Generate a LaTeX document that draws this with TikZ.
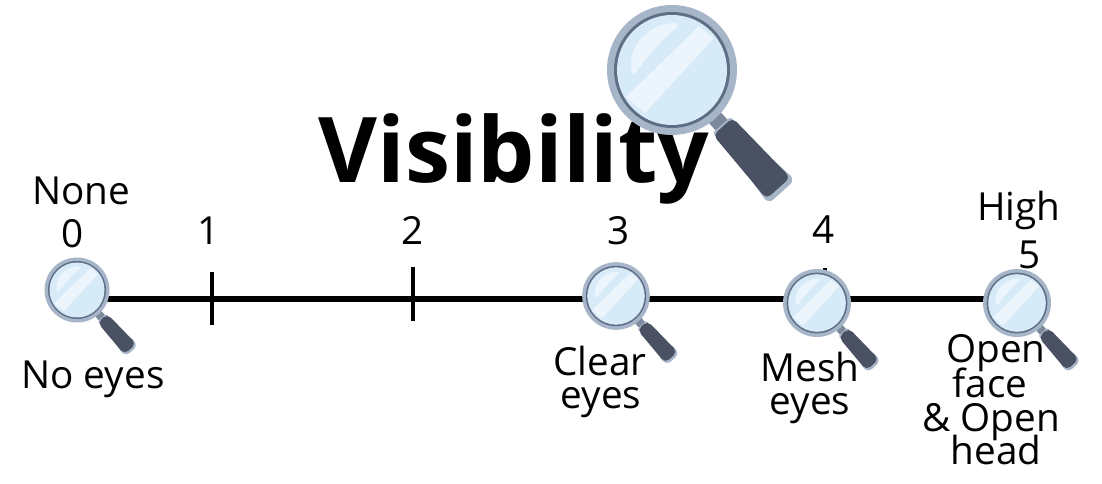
\documentclass[tikz,border=0pt]{standalone}
\usepackage{fontspec}
\setmainfont{Open Sans}
\definecolor{ringc}{HTML}{A7B5C9}
\definecolor{rimc}{HTML}{5E6E84}
\definecolor{lensc}{HTML}{D6EAF8}
\definecolor{glarec}{HTML}{ECF5FC}
\definecolor{neckc}{HTML}{7C889C}
\definecolor{gripc}{HTML}{4A5163}
\tikzset{
  x=0.75pt,y=-0.75pt,
  lbl/.style={inner sep=0pt,outer sep=0pt,anchor=base,align=center,font=\fontsize{29}{25}\selectfont},
  ttl/.style={inner sep=0pt,outer sep=0pt,anchor=base,font=\fontsize{68}{68}\selectfont\bfseries},
  axisline/.style={line width=5.2pt,black},
  tickline/.style={line width=3pt,black},
  pics/mag/.style={code={
    \begin{scope}[rotate=-48]
      \fill[ringc,rounded corners=5] (134,-15) -- (164,-18) -- (164,18) -- (134,15) -- cycle;
      \fill[neckc] (60,-8) rectangle (82,8);
      \fill[ringc,rounded corners=2] (74,-12) rectangle (84,12);
      \fill[gripc,rounded corners=4] (76,-13) -- (159,-16) -- (159,16) -- (76,13) -- cycle;
    \end{scope}
    \fill[ringc] (0,0) circle[radius=65];
    \fill[rimc] (0,0) circle[radius=58];
    \fill[lensc] (0,0) circle[radius=55];
    \begin{scope}
      \clip (0,0) circle[radius=55];
      \fill[glarec] (-46,27) -- (27,-44) -- (42,-32) -- (-27,43) -- cycle;
      \fill[glarec] (-40,3) .. controls (-46,-22) and (-26,-45) .. (1,-47) .. controls (7,-47) and (7,-43) .. (3,-41) .. controls (-14,-26) and (-24,-14) .. (-36,2) .. controls (-38,4) and (-39,4) .. (-40,3) -- cycle;
    \end{scope}
  }}
}
\begin{document}
\begin{tikzpicture}
\useasboundingbox (0,0) rectangle (1102,484);
\fill[white] (0,0) rectangle (1102,484);
\coordinate (m0) at (77,290);
\coordinate (m3) at (616,296);
\coordinate (m4) at (817,303);
\coordinate (m5) at (1017,303);
\coordinate (big) at (672,70);
\coordinate (t1a) at (212,272);
\coordinate (t1b) at (212,325);
\coordinate (t2a) at (413,267);
\coordinate (t2b) at (413,321);
\coordinate (t4a) at (825,268);
\coordinate (t4b) at (825,300);
\coordinate (axa) at (77,299);
\coordinate (axb) at (1017,299);
\node[ttl] (title) at (514,183) {Visibility};
\draw[axisline] (axa) -- (axb);
\draw[tickline] (t1a) -- (t1b);
\draw[tickline] (t2a) -- (t2b);
\draw[tickline] (t4a) -- (t4b);
\pic[scale=1] at (big) {mag};
\pic[scale=0.5] at (m0) {mag};
\pic[scale=0.52] at (m3) {mag};
\pic[scale=0.523] at (m4) {mag};
\pic[scale=0.523] at (m5) {mag};
\node[lbl] (none) at (81,205) {None};
\node[lbl] (n0) at (73,248) {0};
\node[lbl] (n1) at (209,245) {1};
\node[lbl] (n2) at (413,245) {2};
\node[lbl] (n3) at (619,245) {3};
\node[lbl] (n4) at (824,244) {4};
\node[lbl] (high) at (1019,221) {High};
\node[lbl] (n5) at (1030,269) {5};
\node[lbl] (noeyes) at (93,388) {No eyes};
\node[lbl] (clear) at (600,375) {Clear};
\node[lbl] (cleareyes) at (601,408) {eyes};
\node[lbl] (mesh) at (810,381) {Mesh};
\node[lbl] (mesheyes) at (810,414) {eyes};
\node[lbl] (open) at (996,363) {Open};
\node[lbl] (face) at (990,397) {face};
\node[lbl] (ampopen) at (991,431) {\& Open};
\node[lbl] (head) at (996,464) {head};
\end{tikzpicture}
\end{document}
